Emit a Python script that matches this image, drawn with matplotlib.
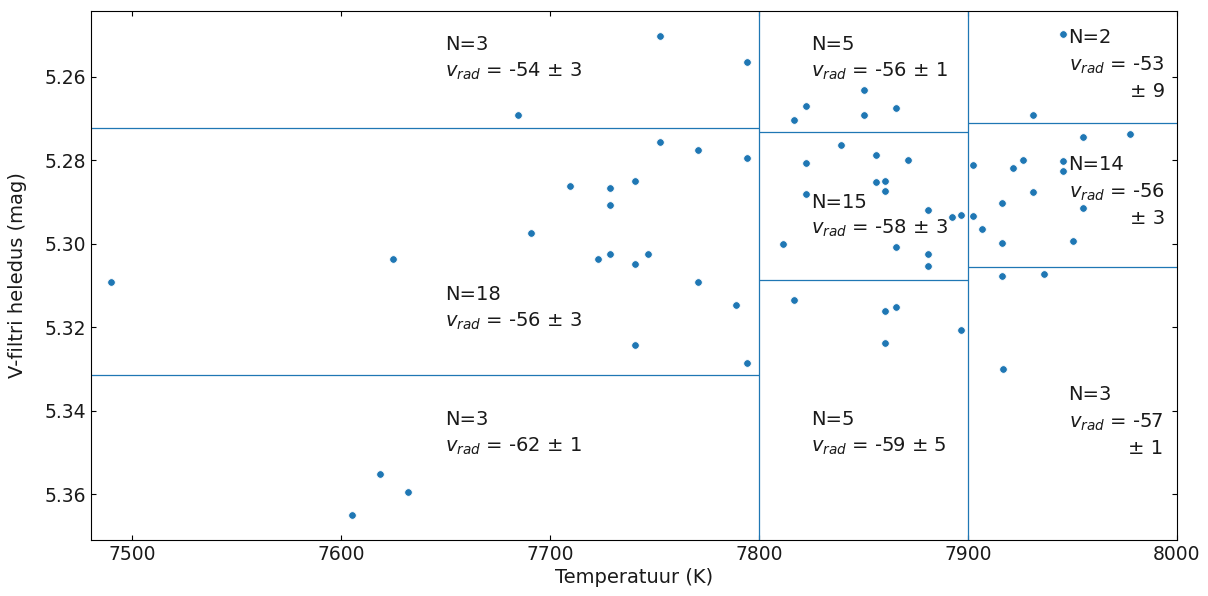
import matplotlib
matplotlib.use("Agg")
import matplotlib.pyplot as plt
import numpy as np

# Temperature (K) and V magnitude of stars
temperature = [
    7490.0, 7605.3, 7618.7, 7632.0, 7625.0, 7684.7, 7690.9, 7709.6, 7723.0, 7728.7,
    7728.7, 7728.7, 7740.7, 7740.7, 7740.7, 7746.9, 7752.6, 7752.6, 7770.8, 7770.8,
    7789.0, 7794.3, 7794.3, 7794.3,
    7816.8, 7822.3, 7850.2, 7850.2, 7865.8,
    7839.2, 7822.3, 7855.8, 7871.1, 7855.8, 7860.4, 7860.4, 7822.3, 7881.0, 7892.2,
    7896.8, 7811.5, 7865.8, 7881.0, 7881.0,
    7816.9, 7860.4, 7865.8, 7896.8, 7860.4,
    7945.6, 7930.9,
    7955.0, 7977.4, 7902.2, 7921.5, 7926.2, 7945.6, 7945.6, 7930.9, 7916.5, 7955.0,
    7902.2, 7906.8, 7916.5, 7950.3,
    7916.5, 7936.4, 7916.8,
]
magnitude = [
    5.3091, 5.3651, 5.3553, 5.3596, 5.3038, 5.2691, 5.2974, 5.2863, 5.3038, 5.2868,
    5.2907, 5.3024, 5.2851, 5.3048, 5.3244, 5.3024, 5.2504, 5.2756, 5.2775, 5.3093,
    5.3148, 5.2564, 5.2794, 5.3285,
    5.2705, 5.2671, 5.2633, 5.2691, 5.2675,
    5.2764, 5.2808, 5.2788, 5.2799, 5.2853, 5.2850, 5.2873, 5.2881, 5.2919, 5.2936,
    5.2931, 5.3002, 5.3009, 5.3025, 5.3053,
    5.3134, 5.3161, 5.3153, 5.3207, 5.3239,
    5.2499, 5.2691,
    5.2744, 5.2737, 5.2811, 5.2819, 5.2799, 5.2803, 5.2827, 5.2877, 5.2904, 5.2916,
    5.2935, 5.2966, 5.2998, 5.2994,
    5.3078, 5.3072, 5.3301,
]

# Temperature bin edges and per-bin magnitude boundaries
temp_edges = [7480.4, 7800, 7900, 8000]
mag_bounds = [
    (5.2722, 5.3314),
    (5.2733, 5.3088),
    (5.2711, 5.3056),
]

# Group statistics (N, mean v_rad, error) per bin: top, middle, bottom
group_n = [[3, 18, 3], [5, 15, 5], [2, 14, 3]]
group_v = [[-54, -56, -62], [-56, -58, -59], [-53, -56, -57]]
group_e = [[3, 3, 1], [1, 3, 5], [9, 3, 1]]

fig = plt.figure(figsize=(12.08, 5.96), dpi=100)
ax = fig.add_axes([0.0753, 0.094, 0.899, 0.8875])

ax.scatter(temperature, magnitude, s=30, color="#1f77b4", edgecolor="white",
           linewidth=0.6, zorder=3)

for x in temp_edges[1:-1]:
    ax.axvline(x, color="#1f77b4", lw=0.9)
for i, (lo, hi) in enumerate(mag_bounds):
    ax.hlines([lo, hi], temp_edges[i], temp_edges[i + 1], color="#1f77b4", lw=0.9)

ax.set_xlim(7480.4, 8000)
ax.set_ylim(5.3710, 5.2443)

fs = 14
ls = 1.4
txt_color = "#1a1a1a"
# text anchor positions per bin (left x, top y for the three rows)
text_x = [7650, 7825, 7948]
text_y = [
    [5.2500, 5.3099, 5.3399],
    [5.2500, 5.2878, 5.3399],
    [5.2484, 5.2788, 5.3339],
]
for i in range(3):
    for j in range(3):
        n, v, e = group_n[i][j], group_v[i][j], group_e[i][j]
        if i < 2:
            ax.text(text_x[i], text_y[i][j], f"N={n}\n$v_{{rad}}$ = {v} ± {e}",
                    ha="left", va="top", fontsize=fs, linespacing=ls,
                    color=txt_color)
        else:
            ax.text(text_x[i], text_y[i][j], f"N={n}",
                    ha="left", va="top", fontsize=fs, color=txt_color)
            ax.annotate(f"$v_{{rad}}$ = {v}\n± {e}", xy=(text_x[i], text_y[i][j]),
                        xytext=(0.5, -19.0), textcoords="offset points",
                        ha="left", va="top", fontsize=fs, linespacing=ls,
                        multialignment="right", color=txt_color)

ax.set_xticks([7500, 7600, 7700, 7800, 7900, 8000])
ax.set_yticks([5.26, 5.28, 5.30, 5.32, 5.34, 5.36])
ax.tick_params(direction="in", top=True, right=True, labelsize=13.5,
               labelcolor=txt_color)
ax.set_xlabel("Temperatuur (K)", fontsize=14, labelpad=3, color=txt_color)
ax.set_ylabel("V-filtri heledus (mag)", fontsize=14, color=txt_color)
ax.yaxis.set_label_coords(-0.059, 0.5)

fig.savefig("out.png", dpi=100)
